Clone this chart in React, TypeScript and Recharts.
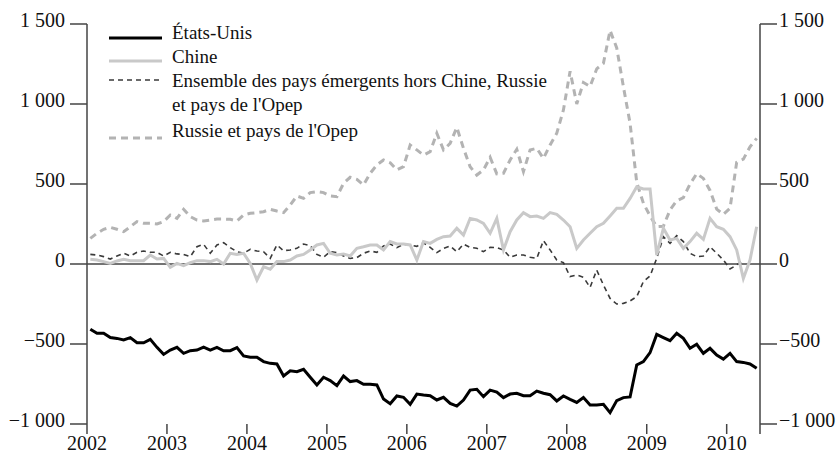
import { LineChart, Line, XAxis, YAxis, ReferenceLine } from "recharts";

// monthly values, Jan 2002 -> May 2010
const etatsUnis = [
  -408, -433, -433, -460, -465, -475, -460, -492, -492, -471, -521, -565,
  -538, -521, -558, -542, -538, -519, -538, -521, -542, -542, -523, -575,
  -583, -583, -610, -621, -625, -700, -667, -673, -658, -708, -756, -708,
  -729, -760, -700, -735, -729, -752, -752, -756, -844, -873, -825, -833,
  -877, -813, -819, -823, -850, -833, -871, -888, -850, -788, -783, -829,
  -788, -800, -835, -813, -808, -823, -823, -794, -808, -817, -856, -825,
  -846, -865, -835, -881, -881, -877, -929, -854, -835, -831, -631, -610,
  -554, -440, -460, -479, -433, -465, -527, -502, -558, -527, -569, -594,
  -558, -610, -615, -625, -652,
];

const chine = [
  29, 25, 15, 4, 19, 29, 21, 21, 21, 56, 31, 35,
  -21, 4, -10, 8, 21, 21, 15, 29, 0, 67, 60, 67,
  4, -100, -17, -33, 15, 15, 25, 50, 60, 88, 119, 129,
  67, 56, 63, 50, 98, 108, 119, 119, 88, 140, 125, 125,
  119, 25, 140, 129, 154, 171, 175, 223, 181, 285, 275, 254,
  192, 285, 88, 202, 275, 321, 296, 300, 285, 321, 310, 275,
  233, 98, 150, 192, 233, 254, 300, 348, 348, 410, 483, 469,
  469, 56, 223, 150, 160, 98, 140, 192, 154, 285, 233, 217,
  171, 88, -90, 25, 233,
];

const emergents = [
  60, 56, 46, 31, 50, 67, 50, 73, 81, 73, 73, 50,
  73, 63, 60, 46, 108, 123, 67, 119, 133, 102, 77, 67,
  92, 81, 77, 35, 119, 83, 88, 98, 125, 115, 60, 42,
  77, 71, 50, 35, 40, 67, 81, 73, 113, 125, 102, 123,
  119, 110, 133, 104, 71, 98, 113, 77, 125, 104, 98, 77,
  104, 102, 88, 42, 56, 56, 42, 35, 146, 88, 25, 8,
  -79, -69, -83, -146, -38, -131, -215, -250, -246, -231, -204, -110,
  -75, 35, 171, 129, 177, 140, 67, 46, 50, 108, 67, 25,
  -31, -6, 25, null, null,
];

const russieOpep = [
  160, 192, 217, 229, 217, 202, 233, 265, 254, 254, 250, 265,
  306, 285, 342, 296, 275, 269, 275, 281, 281, 279, 269, 306,
  317, 321, 327, 342, 331, 321, 369, 425, 410, 446, 452, 446,
  425, 421, 504, 542, 529, 494, 567, 619, 650, 633, 588, 608,
  744, 713, 681, 702, 817, 713, 754, 854, 723, 608, 556, 588,
  667, 563, 567, 650, 717, 577, 713, 723, 660, 744, 817, 963,
  1205, 1000, 1135, 1110, 1220, 1254, 1460, 1350, 1108, 880, 510, 380,
  300, 233, 236, 338, 395, 415, 500, 565, 535, 460, 343, 310,
  348, 636, 655, 733, 785,
];

const yearTicks = [2002, 2003, 2004, 2005, 2006, 2007, 2008, 2009, 2010];
const valueTicks = [-1000, -500, 0, 500, 1000, 1500];

const series = [
  { key: "etatsUnis", label: ["États-Unis"], color: "#000000", width: 3, dash: undefined },
  { key: "chine", label: ["Chine"], color: "#c9c9c9", width: 3, dash: undefined },
  { key: "emergents", label: ["Ensemble des pays émergents hors Chine, Russie", "et pays de l'Opep"], color: "#3a3a3a", width: 1.6, dash: "5 4" },
  { key: "russie", label: ["Russie et pays de l'Opep"], color: "#b3b3b3", width: 3, dash: "7 5" },
];

const data = etatsUnis.map((v, i) => ({
  t: 2002 + (i + 0.5) / 12,
  etatsUnis: v,
  chine: chine[i],
  emergents: emergents[i],
  russie: russieOpep[i],
}));

const FONT = "'Liberation Serif', 'DejaVu Serif', serif";
const END = 2010 + 5 / 12;

const fmt = (v: number) => {
  const a = Math.abs(v);
  const s = a >= 1000 ? Math.floor(a / 1000) + "\u00a0" + String(a % 1000).padStart(3, "0") : String(a);
  return (v < 0 ? "\u2212" : "") + s;
};

const YTick = (props: any) => {
  const { x, y, payload, textAnchor } = props;
  return (
    <text x={x} y={y - 4} dy="0.355em" textAnchor={textAnchor} fontSize={20} fontFamily={FONT} fill="#111">
      {fmt(payload.value)}
    </text>
  );
};

const XTick = (props: any) => {
  const { x, y, payload } = props;
  if (payload.value > 2010.1) return null;
  return (
    <text x={x} y={y} dy="0.8em" textAnchor="middle" fontSize={20} fontFamily={FONT} fill="#111">
      {payload.value}
    </text>
  );
};

const legendRows = [39, 63, 87, 137];
const legendLineY = [38, 61, 80, 138];

export default function App() {
  return (
    <div style={{ position: "absolute", left: 0, top: 0, width: 838, height: 457 }}>
      <LineChart width={838} height={457} data={data} margin={{ top: 24, right: 0, bottom: 0, left: 0 }}>
        <XAxis
          dataKey="t"
          type="number"
          domain={[2002, END]}
          ticks={[...yearTicks, END]}
          interval={0}
          axisLine={false}
          tickSize={10}
          tickMargin={0}
          tickLine={{ stroke: "#444", strokeWidth: 1.5 }}
          tick={<XTick />}
          height={33}
          allowDataOverflow
        />
        <YAxis
          yAxisId="l"
          orientation="left"
          domain={[-1000, 1500]}
          ticks={valueTicks}
          interval={0}
          width={87}
          tickSize={17}
          tickMargin={5}
          axisLine={{ stroke: "#444", strokeWidth: 1.5 }}
          tickLine={{ stroke: "#444", strokeWidth: 1.5 }}
          tick={<YTick />}
        />
        <YAxis
          yAxisId="r"
          orientation="right"
          domain={[-1000, 1500]}
          ticks={valueTicks}
          interval={0}
          width={78}
          tickSize={17}
          tickMargin={2}
          axisLine={{ stroke: "#444", strokeWidth: 1.5 }}
          tickLine={{ stroke: "#444", strokeWidth: 1.5 }}
          tick={<YTick />}
        />
        <ReferenceLine yAxisId="l" y={0} stroke="#444" strokeWidth={1.5} />
        {[...series].reverse().map((s) => (
          <Line
            key={s.key}
            yAxisId={s.key === "russie" ? "r" : "l"}
            type="linear"
            dataKey={s.key}
            stroke={s.color}
            strokeWidth={s.width}
            strokeDasharray={s.dash}
            dot={false}
            activeDot={false}
            isAnimationActive={false}
          />
        ))}
      </LineChart>
      <svg width={600} height={160} style={{ position: "absolute", left: 0, top: 0 }}>
        {series.map((s, i) => (
          <g key={s.key}>
            <line
              x1={109}
              x2={162}
              y1={legendLineY[i]}
              y2={legendLineY[i]}
              stroke={s.color}
              strokeWidth={s.width}
              strokeDasharray={s.dash}
            />
            {s.label.map((t, j) => (
              <text key={j} x={172} y={legendRows[i] + j * 24} fontSize={19} fontFamily={FONT} fill="#111">
                {t}
              </text>
            ))}
          </g>
        ))}
      </svg>
    </div>
  );
}
